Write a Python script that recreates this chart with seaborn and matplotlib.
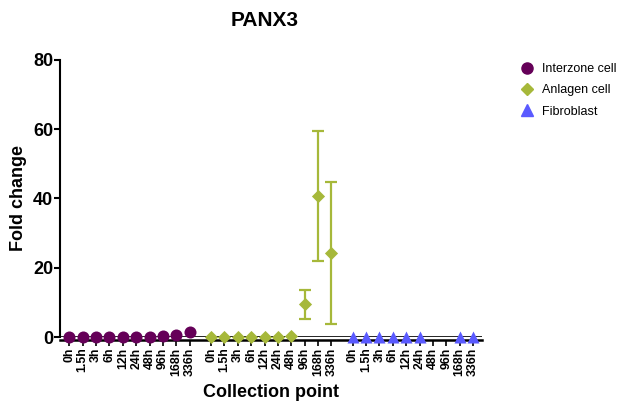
import numpy as np
import pandas as pd
import matplotlib
matplotlib.use("Agg")
import matplotlib.pyplot as plt
import seaborn as sns
from matplotlib.lines import Line2D

sns.set_theme(style="ticks")
plt.rcParams['font.family'] = ['Liberation Sans', 'DejaVu Sans']
plt.rcParams['text.color'] = 'black'
plt.rcParams['axes.labelcolor'] = 'black'
plt.rcParams['xtick.color'] = 'black'
plt.rcParams['ytick.color'] = 'black'
plt.rcParams['axes.edgecolor'] = 'black'

timepoints = ["0h", "1.5h", "3h", "6h", "12h", "24h", "48h", "96h", "168h", "336h"]
cell_types = ["Interzone cell", "Anlagen cell", "Fibroblast"]

interzone = [0.1, 0.1, 0.1, 0.1, 0.1, 0.1, 0.1, 0.2, 0.5, 1.4]
anlagen = [0.1, 0.1, 0.1, 0.1, 0.1, 0.1, 0.2, 9.6, 40.6, 24.2]
anlagen_lo = [0, 0, 0, 0, 0, 0, 0, 5.3, 21.9, 3.8]
anlagen_hi = [0, 0, 0, 0, 0, 0, 0, 13.7, 59.6, 44.7]
fibroblast = [0.1, 0.1, 0.1, 0.1, 0.1, 0.1, np.nan, np.nan, 0.1, 0.1]

colors = {"Interzone cell": "#650058", "Anlagen cell": "#a6b83a", "Fibroblast": "#5a5aff"}
markers = {"Interzone cell": "o", "Anlagen cell": "D", "Fibroblast": "^"}

group_offset = 10.6
rows = []
for gi, (ct, vals) in enumerate(zip(cell_types, [interzone, anlagen, fibroblast])):
    for ti, (tp, v) in enumerate(zip(timepoints, vals)):
        rows.append({"cell": ct, "time": tp, "x": gi * group_offset + ti, "fold": v})
df = pd.DataFrame(rows)

fig = plt.figure(figsize=(6.2, 4.04), dpi=100)
ax = fig.add_axes([60/620, 1 - 337/404, 422/620, 277/404])

# error bars for anlagen
adf = df[df.cell == "Anlagen cell"].reset_index(drop=True)
lo = np.array(anlagen_lo); hi = np.array(anlagen_hi); m = np.array(anlagen)
mask = hi > 0
ax.errorbar(adf.x[mask], m[mask], yerr=[m[mask] - lo[mask], hi[mask] - m[mask]],
            fmt="none", ecolor=colors["Anlagen cell"], elinewidth=1.6, capsize=4.5,
            capthick=1.6, zorder=2)

ax.axhline(0, color="black", lw=1.2, zorder=1)

sizes = {"Interzone cell": 75, "Anlagen cell": 45, "Fibroblast": 75}
for ct in cell_types:
    sub = df[df.cell == ct].dropna()
    sns.scatterplot(data=sub, x="x", y="fold", color=colors[ct], marker=markers[ct],
                    s=sizes[ct], edgecolor=colors[ct], linewidth=0, ax=ax,
                    clip_on=False, zorder=3, legend=False)

sns.despine(ax=ax)
ax.spines["left"].set_linewidth(1.5)
ax.spines["bottom"].set_linewidth(1.8)
ax.spines["bottom"].set_position(("outward", 2.5))

ax.set_xlim(-0.7, 2 * group_offset + 9 + 0.67)
ax.set_ylim(0, 80)
ax.set_yticks([0, 20, 40, 60, 80])
ax.set_yticklabels(["0", "20", "40", "60", "80"], fontsize=13, fontweight="bold")
ax.set_xticks(df.x)
ax.set_xticklabels(list(df.time), rotation=90, fontsize=8.8, fontweight="bold")
ax.tick_params(axis="x", length=4, width=1.2, pad=1)
ax.tick_params(axis="y", length=4, width=1.5, pad=1)

ax.set_xlabel("Collection point", fontsize=13, fontweight="bold", labelpad=6)
ax.set_ylabel("Fold change", fontsize=13, fontweight="bold", labelpad=4)
fig.text(265/620, 1 - 21/404, "PANX3", ha="center", va="center", fontsize=15, fontweight="bold")

handles = [Line2D([0], [0], marker=markers[ct], color="none", markerfacecolor=colors[ct],
                  markeredgecolor=colors[ct], markersize=ms, label=ct)
           for ct, ms in zip(cell_types, [8, 6.5, 8])]
fig.legend(handles=handles, loc="upper left", bbox_to_anchor=(513/620, 1 - 58/404),
           frameon=False, fontsize=9, handletextpad=0.4, labelspacing=0.75,
           borderaxespad=0, handlelength=1.5)

fig.savefig("out.png", dpi=100)
